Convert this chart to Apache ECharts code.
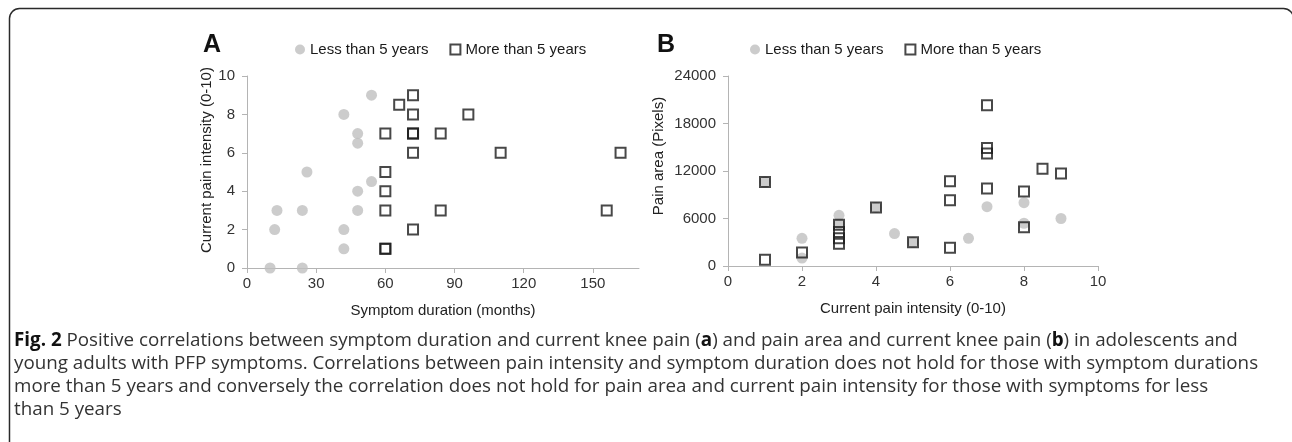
<!DOCTYPE html>
<html>
<head>
<meta charset="utf-8">
<script src="https://cdn.jsdelivr.net/npm/echarts@6/dist/echarts.min.js"></script>
<style>
html,body{margin:0;padding:0;background:#fff;}
#chart{width:1292px;height:442px;}
</style>
</head>
<body>
<div id="chart"></div>
<script>
// ---- Data ----
const seriesNames = ['Less than 5 years', 'More than 5 years'];
// Panel A: [symptom duration (months), current pain intensity (0-10)]
const lessA = [[10,0],[24,0],[12,2],[13,3],[24,3],[26,5],[42,8],[42,2],[42,1],[48,7],[48,6.5],[48,4],[48,3],[54,9],[54,4.5]];
const moreA = [[60,7],[60,5],[60,4],[60,3],[60,1],[60,1],[66,8.5],[72,9],[72,8],[72,7],[72,7],[72,6],[72,2],[84,7],[84,3],[96,8],[110,6],[156,3],[162,6]];
// Panel B: [current pain intensity (0-10), pain area (pixels)]
const lessB = [[1,10600],[2,3500],[2,1000],[3,6400],[3,5300],[4,7400],[4.5,4100],[5,3000],[6.5,3500],[7,7500],[8,8000],[8,5400],[9,6000]];
const moreB = [[1,10600],[1,800],[2,1700],[3,5200],[3,4300],[3,3500],[3,2800],[4,7400],[5,3000],[6,10700],[6,8300],[6,2300],[7,20300],[7,14900],[7,14200],[7,9800],[8,9400],[8,4900],[8.5,12300],[9,11700]];
// Ticks
const xTicksA = [0,30,60,90,120,150];
const xMaxA = 170;
const yTicksA = [0,2,4,6,8,10];
const xTicksB = [0,2,4,6,8,10];
const yTicksB = [0,6000,12000,18000,24000];
// Texts
const panelLabels = ['A', 'B'];
const axisTitles = {
  xA: 'Symptom duration (months)', yA: 'Current pain intensity (0-10)',
  xB: 'Current pain intensity (0-10)', yB: 'Pain area (Pixels)'
};
const captionLines = [
  '{b|Fig. 2} Positive correlations between symptom duration and current knee pain ({b|a}) and pain area and current knee pain ({b|b}) in adolescents and',
  'young adults with PFP symptoms. Correlations between pain intensity and symptom duration does not hold for those with symptom durations',
  'more than 5 years and conversely the correlation does not hold for pain area and current pain intensity for those with symptoms for less',
  'than 5 years'
];

// ---- Styles ----
const FONT = 'Liberation Sans, Arial, sans-serif';
const axisColor = '#b4b4b4';
const labelColor = '#333333';
const circleColor = '#bfbfbf';
const plainNum = v => String(v);

function xAxisCfg(gi, ticks, max, title) {
  return {
    gridIndex: gi, type: 'value',
    min: ticks[0], max: max, interval: ticks[1] - ticks[0],
    axisLine: {show: true, onZero: false, lineStyle: {color: axisColor, width: 1}},
    axisTick: {show: true, length: 5, lineStyle: {color: axisColor}, customValues: ticks},
    axisLabel: {color: labelColor, fontSize: 15, fontFamily: FONT, margin: 8, customValues: ticks, formatter: plainNum},
    splitLine: {show: false},
    name: title, nameLocation: 'middle', nameGap: 35,
    nameTextStyle: {color: '#222', fontSize: 15, fontFamily: FONT}
  };
}
function yAxisCfg(gi, ticks, title, gap, shift) {
  return {
    gridIndex: gi, type: 'value',
    min: ticks[0], max: ticks[ticks.length - 1], interval: ticks[1] - ticks[0],
    axisLine: {show: true, onZero: false, lineStyle: {color: axisColor, width: 1}},
    axisTick: {show: true, length: 5, lineStyle: {color: axisColor}},
    axisLabel: {color: labelColor, fontSize: 15, fontFamily: FONT, margin: 12, formatter: plainNum},
    splitLine: {show: false},
    name: title, nameLocation: 'middle', nameGap: gap,
    nameTextStyle: {color: '#222', fontSize: 15, fontFamily: FONT, padding: [0, 0, 0, shift]}
  };
}
const circleStyle = {color: circleColor};
const squareStyle = {color: 'rgba(255,255,255,0)', borderColor: '#1a1a1a', borderWidth: 2};
const legendText = {color: '#1a1a1a', fontSize: 15, fontFamily: FONT};

const option = {
  backgroundColor: '#ffffff',
  animation: false,
  grid: [
    {left: 247, top: 76, width: 392, height: 192, containLabel: false},
    {left: 728, top: 76, width: 370, height: 190, containLabel: false}
  ],
  xAxis: [xAxisCfg(0, xTicksA, xMaxA, axisTitles.xA), xAxisCfg(1, xTicksB, xTicksB[xTicksB.length - 1], axisTitles.xB)],
  yAxis: [yAxisCfg(0, yTicksA, axisTitles.yA, 33, 24), yAxisCfg(1, yTicksB, axisTitles.yB, 62, 30)],
  legend: [
    {left: 290, top: 37, itemGap: 21, itemWidth: 10, itemHeight: 10, data: seriesNames, textStyle: legendText},
    {left: 745, top: 37, itemGap: 21, itemWidth: 10, itemHeight: 10, data: seriesNames, textStyle: legendText}
  ],
  series: [
    {name: seriesNames[0], type: 'scatter', xAxisIndex: 0, yAxisIndex: 0, symbol: 'circle', symbolSize: 11, itemStyle: circleStyle, data: lessA},
    {name: seriesNames[1], type: 'scatter', xAxisIndex: 0, yAxisIndex: 0, symbol: 'rect', symbolSize: 10, itemStyle: squareStyle, data: moreA},
    {name: seriesNames[0], type: 'scatter', xAxisIndex: 1, yAxisIndex: 1, symbol: 'circle', symbolSize: 11, itemStyle: circleStyle, data: lessB},
    {name: seriesNames[1], type: 'scatter', xAxisIndex: 1, yAxisIndex: 1, symbol: 'rect', symbolSize: 10, itemStyle: squareStyle, data: moreB}
  ],
  graphic: [
    {type: 'rect', silent: true, z: -1,
     shape: {x: 9.5, y: 8.5, width: 1284, height: 520, r: 10},
     style: {fill: null, stroke: '#2a2a2a', lineWidth: 1.5}},
    {type: 'text', left: 203, top: 33, style: {text: panelLabels[0], font: 'bold 25px ' + FONT, fill: '#111'}},
    {type: 'text', left: 657, top: 33, style: {text: panelLabels[1], font: 'bold 25px ' + FONT, fill: '#111'}},
    {type: 'text', left: 14, top: 329,
     style: {
       text: captionLines.join('\n'),
       font: '18.8px "Open Sans", sans-serif', fill: '#333', lineHeight: 23,
       rich: {b: {fontWeight: 'bold', fontSize: 18.8, fontFamily: 'Open Sans', fill: '#111', lineHeight: 23}}
     }}
  ]
};

const chart = echarts.init(document.getElementById('chart'), null, {renderer: 'canvas'});
chart.setOption(option);
</script>
</body>
</html>
